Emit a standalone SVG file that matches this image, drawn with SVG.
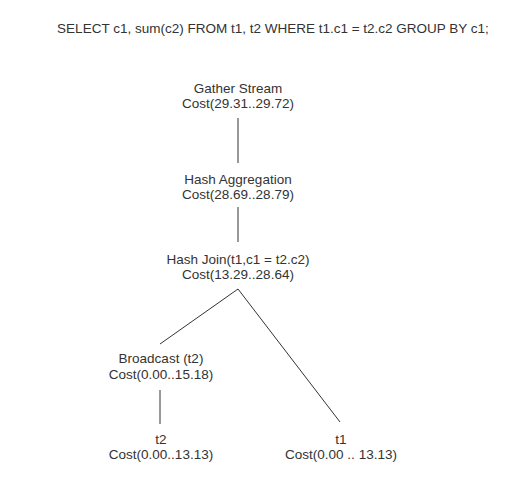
<svg xmlns="http://www.w3.org/2000/svg" width="515" height="477" viewBox="0 0 515 477">
<style>
text{font-family:"Liberation Sans",Arial,sans-serif;font-size:13.5px;fill:#333;text-anchor:middle}
.c line{stroke:#333;stroke-width:1}
</style>
<rect width="515" height="477" fill="#fff"/>
<text x="273" y="33">SELECT c1, sum(c2) FROM t1, t2 WHERE t1.c1 = t2.c2 GROUP BY c1;</text>
<g class="c" id="connectors">
<line x1="238" y1="118" x2="238" y2="163"/>
<line x1="238" y1="207" x2="238" y2="242"/>
<line x1="238" y1="289" x2="160" y2="344"/>
<line x1="238" y1="289" x2="340" y2="422"/>
<line x1="160" y1="390" x2="160" y2="424"/>
</g>
<g id="gather"><text x="238" y="93">Gather Stream</text><text x="238" y="108">Cost(29.31..29.72)</text></g>
<g id="agg"><text x="238" y="184">Hash Aggregation</text><text x="238" y="199">Cost(28.69..28.79)</text></g>
<g id="join"><text x="238" y="264">Hash Join(t1,c1 = t2.c2)</text><text x="238" y="279">Cost(13.29..28.64)</text></g>
<g id="broadcast"><text x="161" y="363">Broadcast (t2)</text><text x="161" y="379">Cost(0.00..15.18)</text></g>
<g id="t2"><text x="161" y="444">t2</text><text x="161" y="459">Cost(0.00..13.13)</text></g>
<g id="t1"><text x="341" y="444">t1</text><text x="341" y="459">Cost(0.00 .. 13.13)</text></g>
</svg>
